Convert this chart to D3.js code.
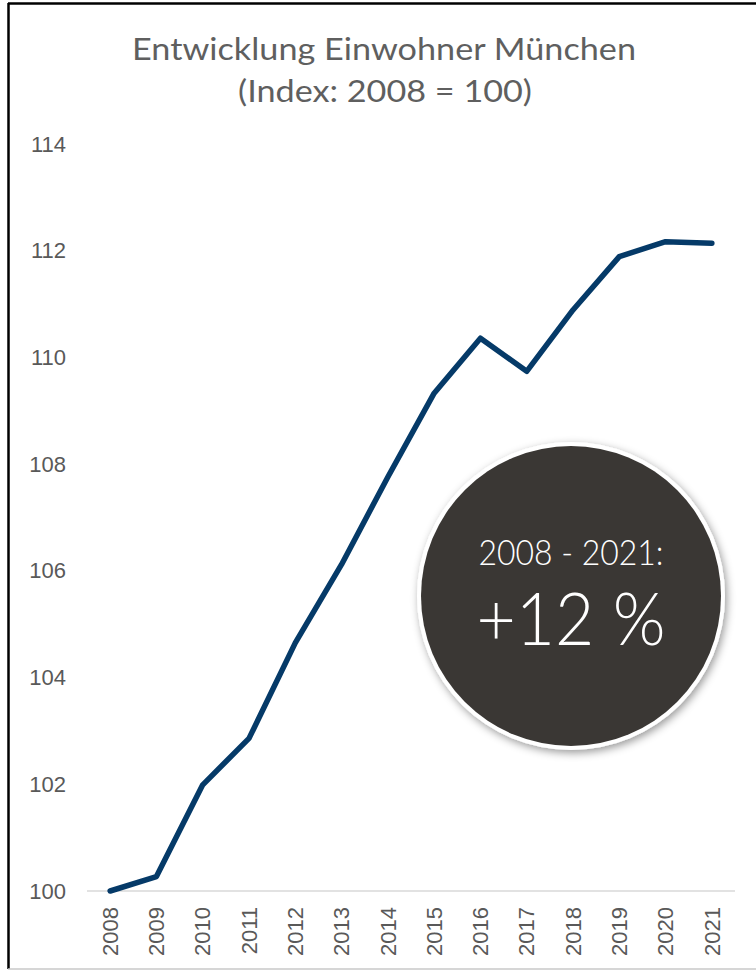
<!DOCTYPE html>
<html>
<head>
<meta charset="utf-8">
<script src="https://cdn.jsdelivr.net/npm/d3@7"></script>
<style>
  body { margin: 0; background: #fff; }
  svg { display: block; }
</style>
</head>
<body>
<script>
// Einwohner München, Index 2008 = 100
const years = ['2008', '2009', '2010', '2011', '2012', '2013', '2014',
               '2015', '2016', '2017', '2018', '2019', '2020', '2021'];
const indexValues = [100, 100.27, 101.99, 102.86, 104.65, 106.12, 107.76,
                     109.33, 110.36, 109.74, 110.89, 111.89, 112.17, 112.14];
const yTicks = [100, 102, 104, 106, 108, 110, 112, 114];
const titleLines = ['Entwicklung Einwohner München', '(Index: 2008 = 100)'];
const badgeLines = ['2008 - 2021:', '+12 %'];

const width = 756, height = 971;
const plot = { left: 87, right: 735, top: 144, bottom: 891 };

const svg = d3.select('body').append('svg')
    .attr('width', width)
    .attr('height', height);

// frame
svg.append('line').attr('x1', 8).attr('x2', width).attr('y1', 3.5).attr('y2', 3.5)
    .attr('stroke', '#000').attr('stroke-width', 2.5);
svg.append('line').attr('x1', 8.5).attr('x2', 8.5).attr('y1', 3).attr('y2', 969)
    .attr('stroke', '#000').attr('stroke-width', 2.5);
svg.append('line').attr('x1', 8).attr('x2', width).attr('y1', 969).attr('y2', 969)
    .attr('stroke', '#c8c8c8').attr('stroke-width', 1.5);

// title
const titleFont = "'Lato', 'Open Sans', sans-serif";
svg.append('text')
    .attr('x', 384).attr('y', 60)
    .attr('text-anchor', 'middle')
    .attr('font-family', titleFont)
    .attr('font-size', 31)
    .attr('fill', '#5f5f5f')
    .attr('textLength', 504)
    .attr('lengthAdjust', 'spacingAndGlyphs')
    .text(titleLines[0]);
svg.append('text')
    .attr('x', 385).attr('y', 102)
    .attr('text-anchor', 'middle')
    .attr('font-family', titleFont)
    .attr('font-size', 31)
    .attr('fill', '#5f5f5f')
    .attr('textLength', 294)
    .attr('lengthAdjust', 'spacingAndGlyphs')
    .text(titleLines[1]);

// scales
const x = d3.scaleBand()
    .domain(years)
    .range([plot.left, plot.right]);
const y = d3.scaleLinear()
    .domain([100, 114])
    .range([plot.bottom, plot.top]);

// y axis labels (no axis line)
const yAxis = svg.append('g')
    .attr('transform', 'translate(66,0)')
    .call(d3.axisLeft(y).tickValues(yTicks).tickSize(0).tickPadding(0));
yAxis.select('.domain').remove();
yAxis.selectAll('text')
    .attr('font-family', "'Liberation Sans', Arial, sans-serif")
    .attr('font-size', 22)
    .attr('fill', '#595959');

// baseline
svg.append('line')
    .attr('x1', plot.left).attr('x2', plot.right)
    .attr('y1', y(100)).attr('y2', y(100))
    .attr('stroke', '#d9d9d9').attr('stroke-width', 1.5);

// x axis labels, rotated
const xAxis = svg.append('g')
    .attr('transform', `translate(0,${plot.bottom})`)
    .call(d3.axisBottom(x).tickSize(0).tickPadding(0));
xAxis.select('.domain').remove();
xAxis.selectAll('text')
    .attr('font-family', "'Liberation Sans', Arial, sans-serif")
    .attr('font-size', 22)
    .attr('fill', '#595959')
    .attr('text-anchor', 'end')
    .attr('transform', 'rotate(-90)')
    .attr('x', -16)
    .attr('y', 0)
    .attr('dy', '0.35em');

// line
const line = d3.line()
    .x((d, i) => x(years[i]) + x.bandwidth() / 2)
    .y(d => y(d));
svg.append('path')
    .datum(indexValues)
    .attr('d', line)
    .attr('fill', 'none')
    .attr('stroke', '#053a68')
    .attr('stroke-width', 5.5)
    .attr('stroke-linejoin', 'round')
    .attr('stroke-linecap', 'round');

// badge
const defs = svg.append('defs');
const shadow = defs.append('filter').attr('id', 'shadow')
    .attr('x', '-20%').attr('y', '-20%').attr('width', '140%').attr('height', '140%');
shadow.append('feDropShadow')
    .attr('dx', 2).attr('dy', 3)
    .attr('stdDeviation', 4)
    .attr('flood-color', '#000')
    .attr('flood-opacity', 0.4);

const badge = svg.append('g').attr('transform', 'translate(571,596)');
badge.append('circle').attr('r', 154).attr('fill', '#fff').attr('filter', 'url(#shadow)');
badge.append('circle').attr('r', 150).attr('fill', '#3a3734');
badge.append('text')
    .attr('y', -31)
    .attr('text-anchor', 'middle')
    .attr('font-family', titleFont)
    .attr('font-weight', 300)
    .attr('font-size', 35)
    .attr('fill', '#fff')
    .attr('textLength', 185)
    .attr('lengthAdjust', 'spacingAndGlyphs')
    .text(badgeLines[0]);
badge.append('text')
    .attr('y', 49)
    .attr('text-anchor', 'middle')
    .attr('font-family', titleFont)
    .attr('font-weight', 300)
    .attr('font-size', 72)
    .attr('fill', '#fff')
    .attr('textLength', 189)
    .attr('lengthAdjust', 'spacingAndGlyphs')
    .text(badgeLines[1]);
</script>
</body>
</html>
